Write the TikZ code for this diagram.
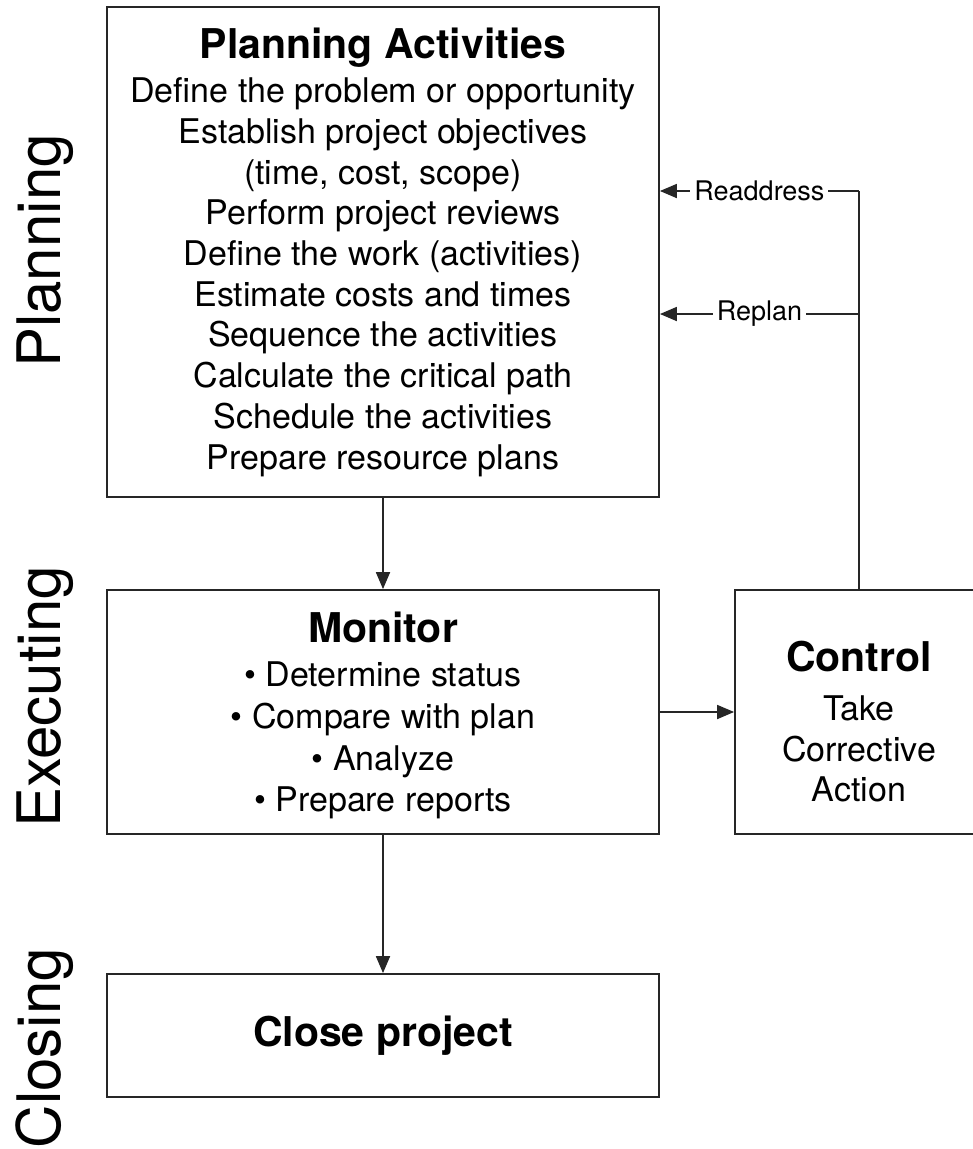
\documentclass[tikz,border=0pt]{standalone}
\usepackage{fontspec}
\setmainfont{TeX Gyre Heros}
\usetikzlibrary{arrows.meta}
\begin{document}
\begin{tikzpicture}[x=1pt,y=-1pt,
  box/.style={draw=black!85, line width=1.8pt, inner sep=0pt, align=center,
    font=\fontsize{34}{40.7}\selectfont},
  phase/.style={rotate=90, anchor=base, inner sep=0pt,
    font=\fontsize{60}{60}\selectfont},
  arr/.style={draw=black!85, line width=1.8pt, -{Triangle[length=17pt,width=14pt]}},
  ln/.style={draw=black!85, line width=1.8pt},
  lbl/.style={fill=white, inner sep=4pt, font=\fontsize{27}{27}\selectfont}]
\newcommand{\ttlfont}{\bfseries\fontsize{41}{40.7}\selectfont}
\useasboundingbox (0,0) rectangle (973,1149);

% phase labels down the left side
\node[phase] (lplan) at (60,251) {Planning};
\node[phase] (lexec) at (60,697) {Executing};
\node[phase] (lclose) at (60,1048) {Closing};

% process boxes
\node[box, minimum width=552pt, minimum height=490pt] (plan) at (383,252)
  {{\ttlfont Planning Activities}\\[4pt]
   Define the problem or opportunity\\
   Establish project objectives\\
   (time, cost, scope)\\
   Perform project reviews\\
   Define the work (activities)\\
   Estimate costs and times\\
   Sequence the activities\\
   Calculate the critical path\\
   Schedule the activities\\
   Prepare resource plans};

\node[box, minimum width=552pt, minimum height=244pt] (monitor) at (383,712)
  {{\ttlfont\rule{0pt}{38pt}Monitor}\\[3pt]
   • Determine status\\[1pt]
   • Compare with plan\\[1pt]
   • Analyze\\[1pt]
   • Prepare reports};

\node[box, minimum width=248pt, minimum height=244pt] (control) at (859,712)
  {{\ttlfont\rule{0pt}{50pt}Control}\\[8pt]
   Take\\
   Corrective\\
   Action};

\node[box, minimum width=552pt, minimum height=123pt] (close) at (383,1035.5)
  {\ttlfont Close project};

% feedback loop coordinates
\coordinate (rd) at (859,191);
\coordinate (rp) at (859,314);

% connectors
\draw[arr] (plan) -- (monitor);
\draw[arr] (monitor) -- (close);
\draw[arr] (monitor) -- (control);
\draw[ln] (control.north) -- (rd);
\draw[arr] (rd) -- node[lbl] (lrd) {Readdress} (plan.east |- rd);
\draw[arr] (rp) -- node[lbl] (lrp) {Replan} (plan.east |- rp);
\end{tikzpicture}
\end{document}
